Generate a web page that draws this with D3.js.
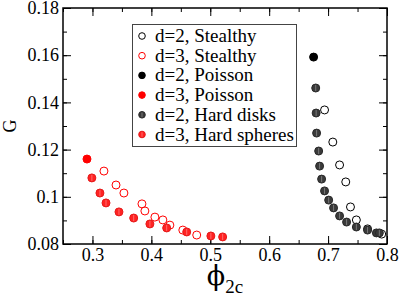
<!DOCTYPE html>
<html>
<head>
<meta charset="utf-8">
<script src="https://cdn.jsdelivr.net/npm/d3@7"></script>
<style>
  body { margin: 0; background: #fff; }
  text { font-family: "Liberation Serif", "DejaVu Serif", serif; }
</style>
</head>
<body>
<div id="chart"></div>
<script>
// phi_2c values and G values
var stealthy2X = [0.694, 0.708, 0.7195, 0.730, 0.738, 0.748, 0.767, 0.791];
var stealthy2Y = [0.1368, 0.1232, 0.1135, 0.1063, 0.0957, 0.0902, 0.0864, 0.0842];

var stealthy3X = [0.3195, 0.340, 0.3534, 0.384, 0.389, 0.406, 0.4195, 0.4314, 0.4534, 0.477];
var stealthy3Y = [0.1109, 0.105, 0.1016, 0.097, 0.094, 0.0914, 0.0902, 0.088, 0.0859, 0.0838];

var poisson2X = [0.6754];
var poisson2Y = [0.1592];

var poisson3X = [0.2907];
var poisson3Y = [0.116];

var disks2X = [0.679, 0.6797, 0.6805, 0.684, 0.6856, 0.689, 0.694, 0.701, 0.7093, 0.7195, 0.7314, 0.748, 0.767, 0.782, 0.787];
var disks2Y = [0.1461, 0.1355, 0.127, 0.1194, 0.113, 0.1075, 0.1025, 0.0986, 0.0953, 0.0919, 0.0893, 0.0872, 0.0859, 0.0847, 0.0847];

var spheres3X = [0.299, 0.3127, 0.323, 0.345, 0.370, 0.3975, 0.426, 0.460, 0.501, 0.521];
var spheres3Y = [0.108, 0.1016, 0.0974, 0.0936, 0.091, 0.0885, 0.0868, 0.0851, 0.0834, 0.083];

var xTicks = [0.3, 0.4, 0.5, 0.6, 0.7, 0.8];
var yTicks = [0.08, 0.1, 0.12, 0.14, 0.16, 0.18];
var yTickLabels = ["0.08", "0.1", "0.12", "0.14", "0.16", "0.18"];

var legendLabels = ["d=2, Stealthy", "d=3, Stealthy", "d=2, Poisson", "d=3, Poisson", "d=2, Hard disks", "d=3, Hard spheres"];

const w = 399;
const h = 296;
const pLeft = 63, pRight = 387, pTop = 8, pBottom = 244;

const xScale = d3.scaleLinear().domain([0.25, 0.8]).range([pLeft, pRight]);
const yScale = d3.scaleLinear().domain([0.08, 0.18]).range([pBottom, pTop]);

const svg = d3.select("#chart").append("svg")
  .attr("width", w)
  .attr("height", h);

// minor + major ticks, pointing inward, on all four sides
var xMinor = d3.range(0.25, 0.8001, 0.05);
var yMinor = d3.range(0.08, 0.1801, 0.01);

svg.append("g").attr("transform", "translate(0," + pBottom + ")")
  .call(d3.axisBottom(xScale).tickValues(xMinor).tickSize(-4).tickFormat(""));
svg.append("g").attr("transform", "translate(0," + pBottom + ")")
  .call(d3.axisBottom(xScale).tickValues(xTicks).tickSize(-8).tickPadding(4).tickFormat(d3.format(".1f")))
  .selectAll("text").attr("font-size", 18).attr("fill", "#000")
  .attr("font-family", "Liberation Serif");
svg.append("g").attr("transform", "translate(0," + pTop + ")")
  .call(d3.axisTop(xScale).tickValues(xMinor).tickSize(-4).tickFormat(""));
svg.append("g").attr("transform", "translate(0," + pTop + ")")
  .call(d3.axisTop(xScale).tickValues(xTicks).tickSize(-8).tickFormat(""));

svg.append("g").attr("transform", "translate(" + pLeft + ",0)")
  .call(d3.axisLeft(yScale).tickValues(yMinor).tickSize(-4).tickFormat(""));
svg.append("g").attr("transform", "translate(" + pLeft + ",0)")
  .call(d3.axisLeft(yScale).tickValues(yTicks).tickSize(-8).tickPadding(4).tickFormat((d, i) => yTickLabels[i]))
  .selectAll("text").attr("font-size", 18).attr("fill", "#000")
  .attr("font-family", "Liberation Serif");
svg.append("g").attr("transform", "translate(" + pRight + ",0)")
  .call(d3.axisRight(yScale).tickValues(yMinor).tickSize(-4).tickFormat(""));
svg.append("g").attr("transform", "translate(" + pRight + ",0)")
  .call(d3.axisRight(yScale).tickValues(yTicks).tickSize(-8).tickFormat(""));

svg.selectAll(".domain").remove();
svg.selectAll(".tick line").attr("stroke", "#000").attr("stroke-width", 1);

// frame
svg.append("rect")
  .attr("x", pLeft).attr("y", pTop)
  .attr("width", pRight - pLeft).attr("height", pBottom - pTop)
  .attr("fill", "none").attr("stroke", "#000").attr("stroke-width", 1.5);

// axis labels
svg.append("text")
  .attr("transform", "translate(16," + ((pTop + pBottom) / 2) + ") rotate(-90)")
  .attr("text-anchor", "middle")
  .attr("font-size", 18)
  .text("G");

var xl = svg.append("text")
  .attr("x", (pLeft + pRight) / 2)
  .attr("y", 285)
  .attr("text-anchor", "middle");
xl.append("tspan").attr("font-size", 27).attr("font-family", "DejaVu Serif").text("ϕ");
xl.append("tspan").attr("font-size", 19).attr("dy", 8).text("2c");

// marker styles
var styles = [
  {fill: "none", stroke: "#000"},
  {fill: "none", stroke: "#ff0000"},
  {fill: "#000", stroke: "#000"},
  {fill: "#ff0000", stroke: "#ff0000"},
  {fill: "#3a3a3a", stroke: "#2a2a2a", stripe: "#8a8a8a"},
  {fill: "#f22", stroke: "#e51a1a", stripe: "#ff8080"}
];

var series = [
  [stealthy2X, stealthy2Y],
  [stealthy3X, stealthy3Y],
  [disks2X, disks2Y],
  [spheres3X, spheres3Y],
  [poisson2X, poisson2Y],
  [poisson3X, poisson3Y]
];
var seriesStyle = [0, 1, 4, 5, 2, 3];

function drawMarker(g, cx, cy, st, r) {
  g.append("circle")
    .attr("cx", cx).attr("cy", cy).attr("r", r)
    .attr("fill", st.fill).attr("stroke", st.stroke).attr("stroke-width", 1);
  if (st.stripe) {
    g.append("line")
      .attr("x1", cx).attr("x2", cx)
      .attr("y1", cy - r + 1).attr("y2", cy + r - 1)
      .attr("stroke", st.stripe).attr("stroke-width", 0.8);
  }
}

var marks = svg.append("g");
series.forEach(function(s, k) {
  var st = styles[seriesStyle[k]];
  s[0].forEach(function(x, i) {
    drawMarker(marks, xScale(x), yScale(s[1][i]), st, 4);
  });
});

// legend
var lg = svg.append("g");
lg.append("rect")
  .attr("x", 132.5).attr("y", 24.5)
  .attr("width", 164).attr("height", 122)
  .attr("fill", "#fff").attr("stroke", "#444").attr("stroke-width", 1);
legendLabels.forEach(function(lab, i) {
  var yy = 36 + i * 19.7;
  drawMarker(lg, 142, yy, styles[i], 3.3);
  lg.append("text")
    .attr("x", 155).attr("y", yy + 6)
    .attr("font-size", 19)
    .text(lab);
});
</script>
</body>
</html>
